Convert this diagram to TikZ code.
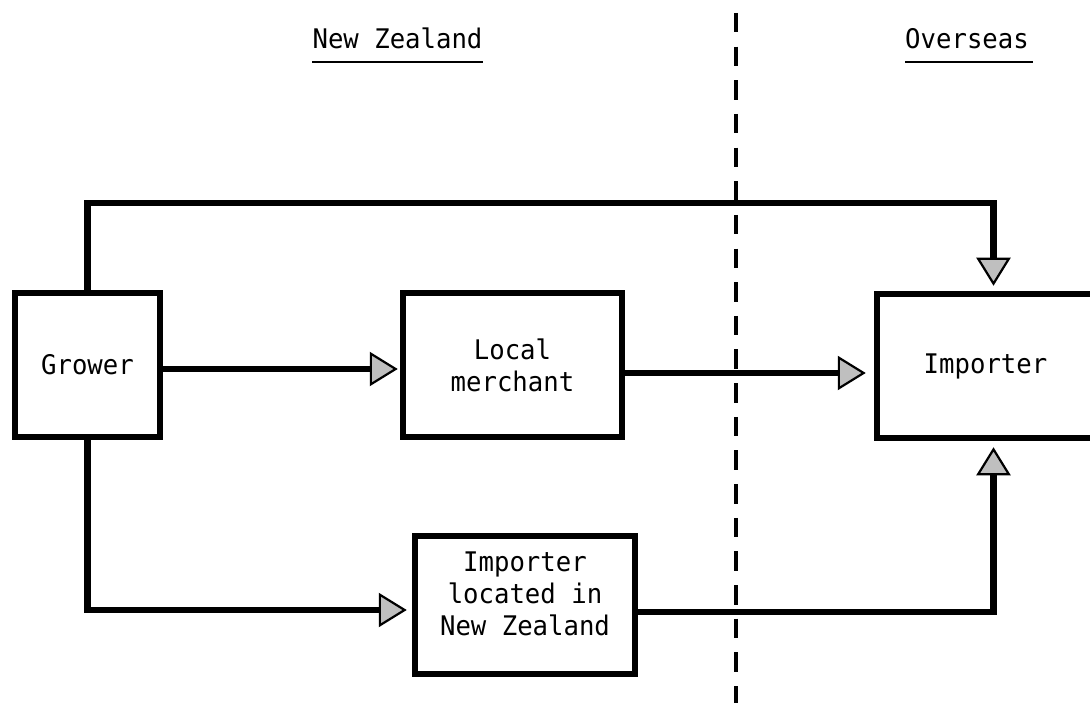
\documentclass[tikz,border=0pt]{standalone}
\usepackage{fontspec}
\newfontfamily\tw[FakeStretch=0.95]{DejaVu Sans Mono}
\usetikzlibrary{arrows.meta,calc}
\begin{document}
\begin{tikzpicture}[x=1pt,y=-1pt,
  every node/.style={font=\tw\fontsize{27}{32}\selectfont},
  chainbox/.style={draw=black,line width=6.5pt,rectangle,inner sep=0pt,align=center},
  heading/.style={inner sep=0pt,anchor=base},
  flow/.style={line width=6.5pt,
    -{Triangle[length=28pt,width=34pt,fill=gray!50,line width=2.2pt]}},
  border/.style={line width=4pt,dash pattern=on 19.5pt off 14.15pt}]
  \useasboundingbox (0,0) rectangle (1090,703);
  \clip (0,0) rectangle (1090,703);

  % country border
  \coordinate (bordertop) at (736,13);
  \coordinate (borderbot) at (736,720);
  \draw[border] (bordertop) -- (borderbot);

  % headings
  \node[heading] (nz) at (397.5,49) {New Zealand};
  \node[heading] (os) at (967,49) {Overseas};
  \draw[line width=2.5pt] ([yshift=-13pt]nz.base west) -- ([yshift=-13pt]nz.base east);
  \draw[line width=2.5pt] ([yshift=-13pt]os.base west) -- ([yshift=-13pt,xshift=4pt]os.base east);

  % marketing channels
  \node[chainbox,minimum width=145pt,minimum height=144pt] (grower) at (87.5,365) {Grower};
  \node[chainbox,minimum width=219pt,minimum height=144pt] (local) at (512.5,365) {Local\\merchant};
  \node[chainbox,minimum width=233pt,minimum height=144pt] (imp) at (993.5,366) {Importer\hspace*{16pt}};
  \node[chainbox,minimum width=220pt,minimum height=138pt] (inz) at (525,605) {Importer\\located in\\New Zealand\\[-10pt]};

  \coordinate (topy) at (0,203);

  % direct export
  \draw[flow,shorten >=5pt] (grower.north) -- (grower.north |- topy) -| (imp.north);
  % via local merchant
  \draw[flow,shorten >=2pt] ([yshift=-4pt]grower.east) -- ([yshift=-4pt]grower.east -| local.west);
  \draw[flow,shorten >=8pt] ([yshift=-8pt]local.east) -- ([yshift=-8pt]local.east -| imp.west);
  % via importer located in New Zealand
  \draw[flow,shorten >=5pt] (grower.south) |- ([yshift=-5pt]inz.west);
  \draw[flow,shorten >=6pt] ([yshift=-7pt]inz.east) -| (imp.south);
\end{tikzpicture}
\end{document}
